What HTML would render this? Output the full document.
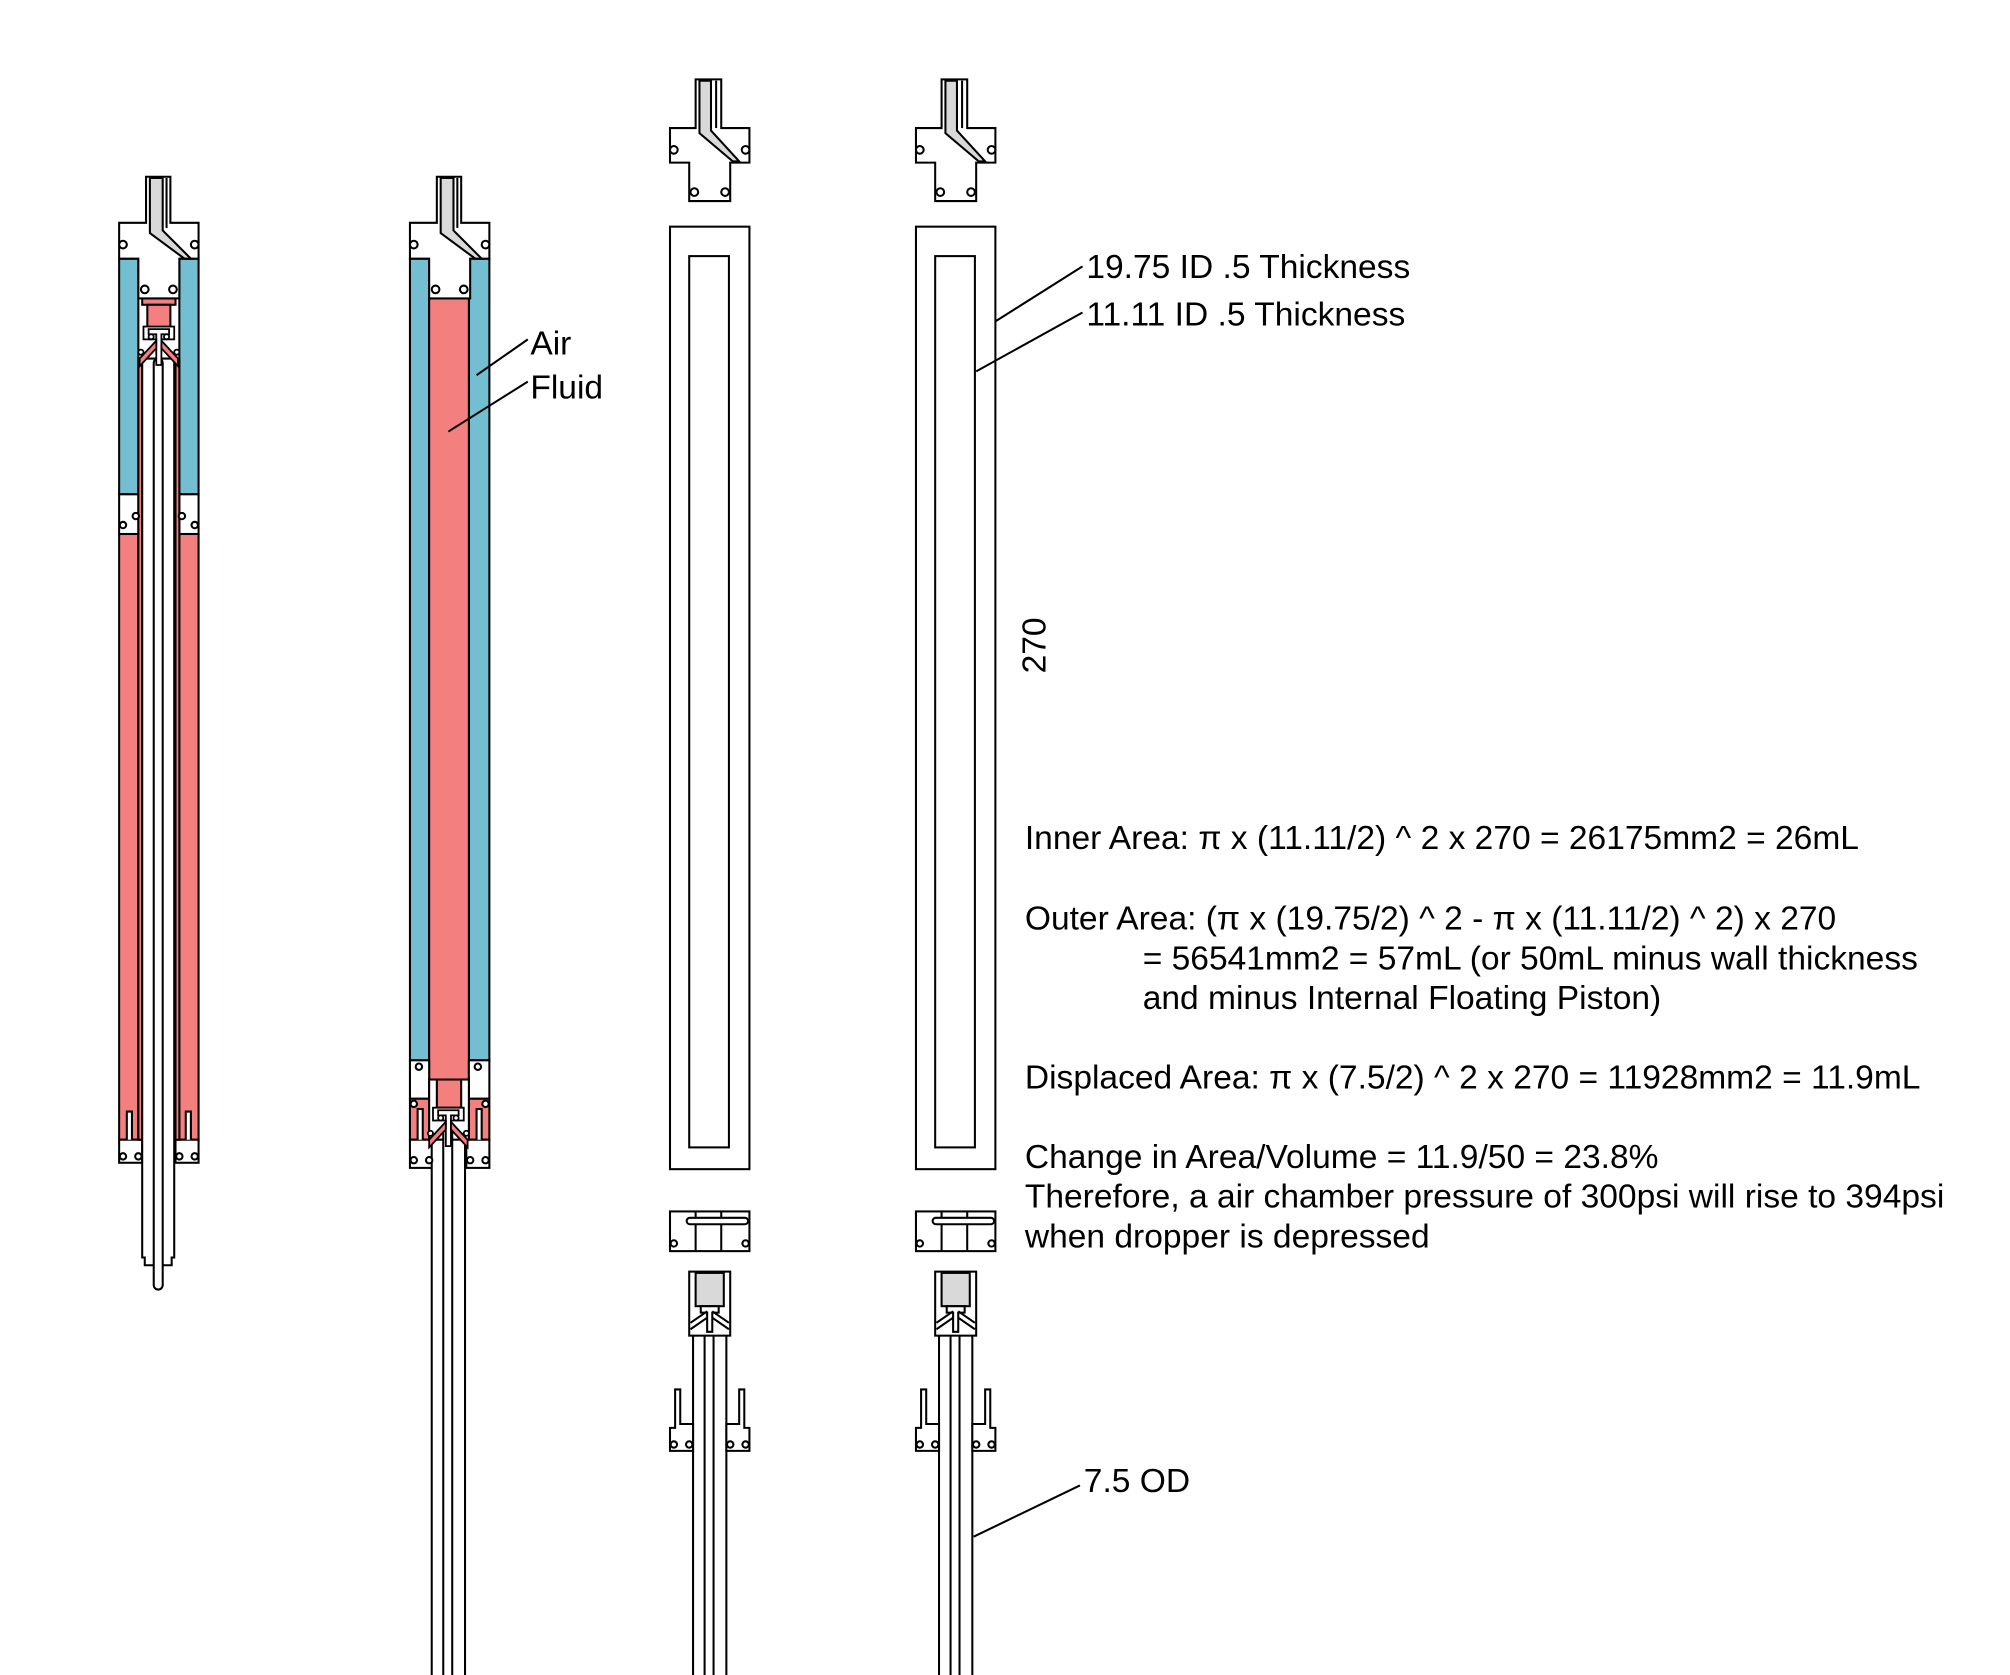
<!DOCTYPE html>
<html><head><meta charset="utf-8"><style>
html,body{margin:0;padding:0;background:#fff;}
svg{display:block;}
text{font-family:"Liberation Sans",sans-serif;fill:#000;}
</style></head><body>
<svg width="2010" height="1675" viewBox="0 0 1569 1308" preserveAspectRatio="none" xmlns="http://www.w3.org/2000/svg">
<defs>
<g id="head" stroke="#000" stroke-width="1.6">
  <polygon points="114,138 133,138 133,174 155,174 155,202 140,202 140,233 108,233 108,202 93,202 93,174 114,174" fill="#fff"/>
  <polygon points="117,139 127,139 127,180 149,202 144,202 117,182" fill="#d9d9d9"/>
  <line x1="130" y1="139" x2="130" y2="178"/>
  <g fill="#fff"><circle cx="96" cy="191" r="3"/><circle cx="152" cy="191" r="3"/><circle cx="113" cy="226" r="3"/><circle cx="135" cy="226" r="3"/></g>
</g>
<g id="pistonhead" stroke="#000" stroke-width="1.4">
  <rect x="112" y="255" width="24" height="10" fill="#fff"/>
  <polygon points="116,257 132,257 132,261 126,261 126,285 122,285 122,261 116,261" fill="#fff"/>
  <polygon points="109,280 122,266 122,272 109,286" fill="#f47f7f"/>
  <polygon points="139,280 126,266 126,272 139,286" fill="#f47f7f"/>
  <g fill="#fff"><circle cx="118" cy="263" r="2"/><circle cx="130" cy="263" r="2"/><circle cx="110" cy="275" r="2"/><circle cx="138" cy="275" r="2"/></g>
</g>
<g id="col3" stroke="#000" stroke-width="1.6" fill="#fff">
  <polygon points="543,62 563,62 563,100 585,100 585,127 570,127 570,157 538,157 538,127 523,127 523,100 543,100"/>
  <polygon points="546,63 555,63 555,102 577,126 572,126 546,104" fill="#d9d9d9"/>
  <line x1="559" y1="63" x2="559" y2="100"/>
  <circle cx="526" cy="117" r="3"/><circle cx="582" cy="117" r="3"/><circle cx="542" cy="150" r="3"/><circle cx="566" cy="150" r="3"/>
  <rect x="523" y="177" width="62" height="736"/>
  <rect x="538" y="200" width="31" height="696"/>
  <rect x="523" y="946" width="62" height="31"/>
  <line x1="543" y1="946" x2="543" y2="977"/><line x1="563" y1="946" x2="563" y2="977"/>
  <rect x="536" y="951" width="48" height="5" rx="2.5"/>
  <circle cx="526" cy="971" r="2.5"/><circle cx="582" cy="971" r="2.5"/>
  <rect x="541" y="1040" width="26" height="270"/>
  <rect x="550" y="1030" width="7" height="280"/>
  <rect x="538" y="993" width="32" height="50"/>
  <rect x="543" y="994" width="22" height="26" fill="#d9d9d9"/>
  <polygon points="547,1020 561,1020 561,1025 556,1025 556,1040 552,1040 552,1025 547,1025"/>
  <line x1="539" y1="1033" x2="552" y2="1024"/><line x1="539" y1="1038" x2="552" y2="1029"/>
  <line x1="569" y1="1033" x2="556" y2="1024"/><line x1="569" y1="1038" x2="556" y2="1029"/>
  <polygon points="527,1085 531,1085 531,1112 541,1112 541,1133 523,1133 523,1115 527,1115"/>
  <polygon points="581,1085 577,1085 577,1112 567,1112 567,1133 585,1133 585,1115 581,1115"/>
  <circle cx="526" cy="1128" r="2.5"/><circle cx="538" cy="1128" r="2.5"/><circle cx="570" cy="1128" r="2.5"/><circle cx="582" cy="1128" r="2.5"/>
</g>
</defs>

<!-- Column 1 -->
<g stroke="#000" stroke-width="1.6">
  <rect x="93" y="202" width="15" height="184" fill="#73bfd1"/>
  <rect x="140" y="202" width="15" height="184" fill="#73bfd1"/>
  <rect x="93" y="386" width="15" height="31" fill="#fff"/>
  <rect x="140" y="386" width="15" height="31" fill="#fff"/>
  <rect x="93" y="417" width="15" height="473" fill="#f47f7f"/>
  <rect x="140" y="417" width="15" height="473" fill="#f47f7f"/>
  <rect x="93" y="890" width="18" height="18" fill="#fff"/>
  <rect x="137" y="890" width="18" height="18" fill="#fff"/>
  <path d="M99,890 V868 H103 V890" fill="#fff"/>
  <path d="M145,890 V868 H149 V890" fill="#fff"/>
  <rect x="108" y="280" width="3" height="610" fill="#f47f7f"/>
  <rect x="137" y="280" width="3" height="610" fill="#f47f7f"/>
  <polygon points="111,280 136,280 136,982 134,982 134,988 113,988 113,982 111,982" fill="#fff"/>
  <rect x="120" y="280" width="7" height="727" rx="3.5" fill="#fff"/>
  <rect x="111" y="233" width="26" height="5" fill="#f47f7f"/>
  <rect x="115" y="238" width="18" height="20" fill="#f47f7f"/>
  <g fill="#fff"><circle cx="96" cy="903" r="2.5"/><circle cx="108" cy="903" r="2.5"/><circle cx="140" cy="903" r="2.5"/><circle cx="152" cy="903" r="2.5"/><circle cx="106" cy="403" r="2.5"/><circle cx="142" cy="403" r="2.5"/><circle cx="96" cy="410" r="2.5"/><circle cx="152" cy="410" r="2.5"/></g>
</g>
<use href="#pistonhead"/>
<use href="#head"/>

<!-- Column 2 -->
<g stroke="#000" stroke-width="1.6">
  <rect x="320" y="202" width="15" height="626" fill="#73bfd1"/>
  <rect x="366" y="202" width="16" height="626" fill="#73bfd1"/>
  <rect x="335" y="233" width="31" height="610" fill="#f47f7f"/>
  <rect x="320" y="828" width="15" height="30" fill="#fff"/>
  <rect x="366" y="828" width="16" height="30" fill="#fff"/>
  <rect x="320" y="858" width="15" height="32" fill="#f47f7f"/>
  <rect x="366" y="858" width="16" height="32" fill="#f47f7f"/>
  <rect x="320" y="890" width="18" height="22" fill="#fff"/>
  <rect x="364" y="890" width="18" height="22" fill="#fff"/>
  <path d="M326,890 V866 H330 V890" fill="#fff"/>
  <path d="M372,890 V866 H376 V890" fill="#fff"/>
  <rect x="335" y="843" width="31" height="47" fill="#fff"/>
  <rect x="341" y="843" width="19" height="22" fill="#f47f7f"/>
  <rect x="337" y="890" width="26" height="420" fill="#fff"/>
  <rect x="346" y="880" width="7" height="430" fill="#fff"/>
  <g fill="#fff"><circle cx="323" cy="906" r="2.5"/><circle cx="335" cy="906" r="2.5"/><circle cx="367" cy="906" r="2.5"/><circle cx="379" cy="906" r="2.5"/><circle cx="327" cy="833" r="2.5"/><circle cx="373" cy="833" r="2.5"/><circle cx="323" cy="862" r="2.5"/><circle cx="379" cy="862" r="2.5"/></g>
</g>
<use href="#pistonhead" transform="translate(226,610)"/>
<use href="#head" transform="translate(227,0)"/>
<g stroke="#000" stroke-width="1.6"><line x1="372" y1="293" x2="412" y2="265"/><line x1="350" y1="337" x2="412" y2="298"/></g>

<!-- Columns 3,4 -->
<use href="#col3"/>
<use href="#col3" transform="translate(192,0)"/>

<g stroke="#000" stroke-width="1.6">
  <line x1="777" y1="251" x2="845" y2="208"/>
  <line x1="762" y1="290" x2="845" y2="244"/>
  <line x1="760" y1="1200" x2="843" y2="1160"/>
</g>

<g font-size="26.2">
<text x="414" y="277">Air</text>
<text x="414" y="311">Fluid</text>
<text x="848" y="217">19.75 ID .5 Thickness</text>
<text x="848" y="254">11.11 ID .5 Thickness</text>
<text x="846" y="1165">7.5 OD</text>
<text transform="translate(816,504) rotate(-90)" text-anchor="middle">270</text>
<text x="800" y="663">Inner Area: π x (11.11/2) ^ 2 x 270 = 26175mm2 = 26mL</text>
<text x="800" y="726">Outer Area: (π x (19.75/2) ^ 2 - π x (11.11/2) ^ 2) x 270</text>
<text x="892" y="757">= 56541mm2 = 57mL (or 50mL minus wall thickness</text>
<text x="892" y="788">and minus Internal Floating Piston)</text>
<text x="800" y="850">Displaced Area: π x (7.5/2) ^ 2 x 270 = 11928mm2 = 11.9mL</text>
<text x="800" y="912">Change in Area/Volume = 11.9/50 = 23.8%</text>
<text x="800" y="943">Therefore, a air chamber pressure of 300psi will rise to 394psi</text>
<text x="800" y="974">when dropper is depressed</text>
</g>
</svg>
</body></html>
